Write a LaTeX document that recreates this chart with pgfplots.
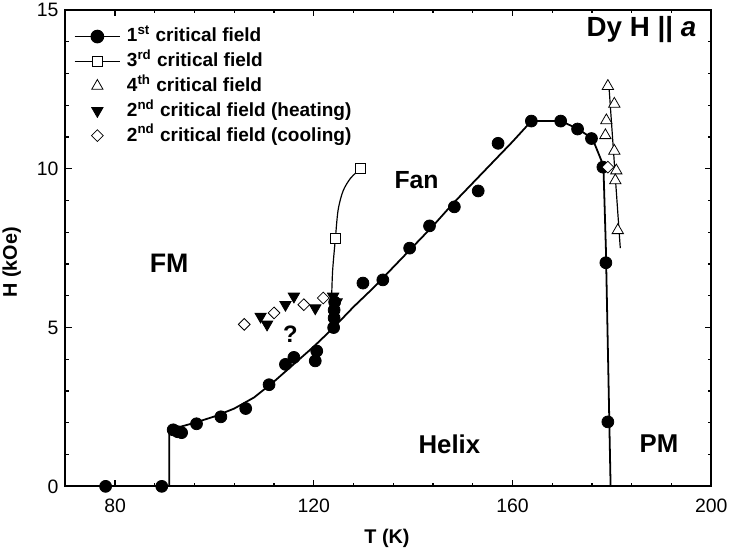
\documentclass[border=0pt]{standalone}
\usepackage{fontspec}
\setmainfont{Liberation Sans}
\usepackage{pgfplots}
\pgfplotsset{compat=1.18}

\pgfplotsset{
  linemark/.style={legend image code/.code={%
    \draw[mark repeat=2,mark phase=2,##1] plot coordinates {(0pt,0pt)(11.5pt,0pt)(23pt,0pt)};}},
  markonly/.style={legend image code/.code={%
    \draw[mark repeat=2,mark phase=2,only marks,##1] plot coordinates {(0pt,0pt)(11.5pt,0pt)(23pt,0pt)};}},
}

\begin{document}
\begin{tikzpicture}
\begin{axis}[
    scale only axis,
    width=326pt, height=240.5pt,
    xmin=70, xmax=200,
    ymin=0, ymax=15,
    xtick={80,120,160,200},
    ytick={0,5,10,15},
    minor x tick num=4,
    minor y tick num=4,
    tick align=inside,
    major tick length=3.2pt,
    minor tick length=1.6pt,
    axis line style={line width=1pt},
    every tick/.style={black, line width=0.6pt},
    tick label style={font=\fontsize{9.8}{11}\selectfont},
    /pgf/number format/assume math mode=true,
    xticklabel style={yshift=-3pt},
    xlabel={\bfseries T (K)},
    ylabel={\bfseries H (kOe)},
    label style={font=\fontsize{12.5}{14}\selectfont},
    every axis x label/.style={at={(axis description cs:0.498,-0.11)}, anchor=center},
    every axis y label/.style={at={(axis description cs:-0.083,0.47)}, rotate=90, anchor=center},
    clip=false,
    legend cell align=left,
    legend style={
        at={(axis description cs:0,1)},
        anchor=north west,
        xshift=4pt, yshift=-8pt,
        draw=none, fill=none,
        font=\fontsize{9.6}{11.5}\selectfont\bfseries,
        inner sep=0pt,
        row sep=2pt,
        column sep=3pt,
        nodes={inner sep=0pt, text height=8pt, text depth=2.5pt},
    },
]

% 1st critical field: drawn line
\addplot[black, line width=0.9pt, forget plot] coordinates {
 (90.9,0) (90.9,1.8) (93,1.87) (96,2.0) (100,2.2) (104,2.45) (108,2.8)
 (112,3.3) (116,3.85) (120,4.4) (124,5.0) (128,5.65) (132,6.25) (136,6.9)
 (140,7.55) (144,8.2) (148,8.9) (152,9.55) (156,10.2) (160,10.85) (163.8,11.5)
 (169.8,11.5) (173.2,11.25) (176.1,10.95) (178.3,10.1) (178.8,7.5) (179.75,0)
};
% 1st critical field: points
\addplot[only marks, mark=*, mark size=3pt, black, forget plot] coordinates {
 (78.1,0) (89.4,0) (91.7,1.78) (92.6,1.72) (93.4,1.69) (96.4,1.97) (101.3,2.19)
 (106.3,2.45) (111,3.2) (114.3,3.84) (116,4.06) (120.3,3.95) (120.6,4.26)
 (124,5.0) (124.1,5.3) (124.1,5.55) (124.2,5.8) (129.9,6.4) (133.9,6.5)
 (139.3,7.5) (143.3,8.2) (148.3,8.8) (153.1,9.3) (157.1,10.8) (163.8,11.5)
 (169.7,11.5) (173.1,11.25) (175.9,10.95) (178.2,10.05) (178.8,7.04) (179.2,2.03)
};

% 3rd critical field
\addplot[black, line width=0.6pt, smooth, forget plot] coordinates {
 (123.6,5.97) (123.8,6.8) (124.35,7.8) (124.9,8.7) (125.9,9.3) (127.4,9.7) (129.4,10.0)
};
\addplot[only marks, mark=square*, mark size=2.5pt, black, fill=white, forget plot] coordinates {
 (124.35,7.8) (129.4,10.0)
};

% 4th critical field
\addplot[black, line width=0.6pt, forget plot] coordinates {(179.35,12.75) (181.7,7.5)};
\addplot[only marks, mark=triangle*, mark size=3.3pt, black, fill=white, forget plot] coordinates {
 (179.2,12.6) (180.5,12.04) (178.9,11.52) (178.7,11.05) (180.5,10.56)
 (180.9,9.94) (180.7,9.63) (181.2,8.06)
};

% 2nd critical field (heating)
\addplot[only marks, mark=triangle*, mark size=3.3pt, mark options={rotate=180}, black, forget plot] coordinates {
 (109.3,5.35) (110.6,5.1) (114.3,5.72) (116,5.98) (120.3,5.61) (123.9,5.98) (124.6,5.8)
};

% 2nd critical field (cooling)
\addplot[only marks, mark=square*, mark size=2.1pt, mark options={rotate=45}, black, fill=white, forget plot] coordinates {
 (106,5.1) (112,5.46) (118,5.72) (121.9,5.93) (179.2,10.05)
};

% legend
\addlegendimage{linemark, black, line width=0.9pt, mark=*, mark size=3pt}
\addlegendentry{1\textsuperscript{st} critical field}
\addlegendimage{linemark, black, line width=0.6pt, mark=square*, mark size=2.5pt, mark options={fill=white}}
\addlegendentry{3\textsuperscript{rd} critical field}
\addlegendimage{markonly, black, mark=triangle*, mark size=3.3pt, mark options={fill=white}}
\addlegendentry{4\textsuperscript{th} critical field}
\addlegendimage{markonly, black, mark=triangle*, mark size=3.3pt, mark options={rotate=180}}
\addlegendentry{2\textsuperscript{nd} critical field (heating)}
\addlegendimage{markonly, black, mark=square*, mark size=2.1pt, mark options={rotate=45, fill=white}}
\addlegendentry{2\textsuperscript{nd} critical field (cooling)}

% region labels
\node[font=\fontsize{13.5}{15}\selectfont\bfseries] at (axis cs:90.9,7.03) {FM};
\node[font=\fontsize{12.5}{14}\selectfont\bfseries] at (axis cs:140.7,9.63) {Fan};
\node[font=\fontsize{13}{15}\selectfont\bfseries] at (axis cs:147.3,1.33) {Helix};
\node[font=\fontsize{13}{15}\selectfont\bfseries] at (axis cs:189.5,1.33) {PM};
\node[font=\fontsize{12}{14}\selectfont\bfseries] at (axis cs:115.3,4.78) {?};
\node[font=\fontsize{14}{16}\selectfont\bfseries, anchor=east] at (axis cs:198.4,14.37) {Dy H \textbar\textbar\ \textit{a}};
\end{axis}
\pgfresetboundingbox
\path ([shift={(-33pt,-31pt)}]current axis.south west) rectangle ([shift={(10pt,5pt)}]current axis.north east);
\end{tikzpicture}
\end{document}
